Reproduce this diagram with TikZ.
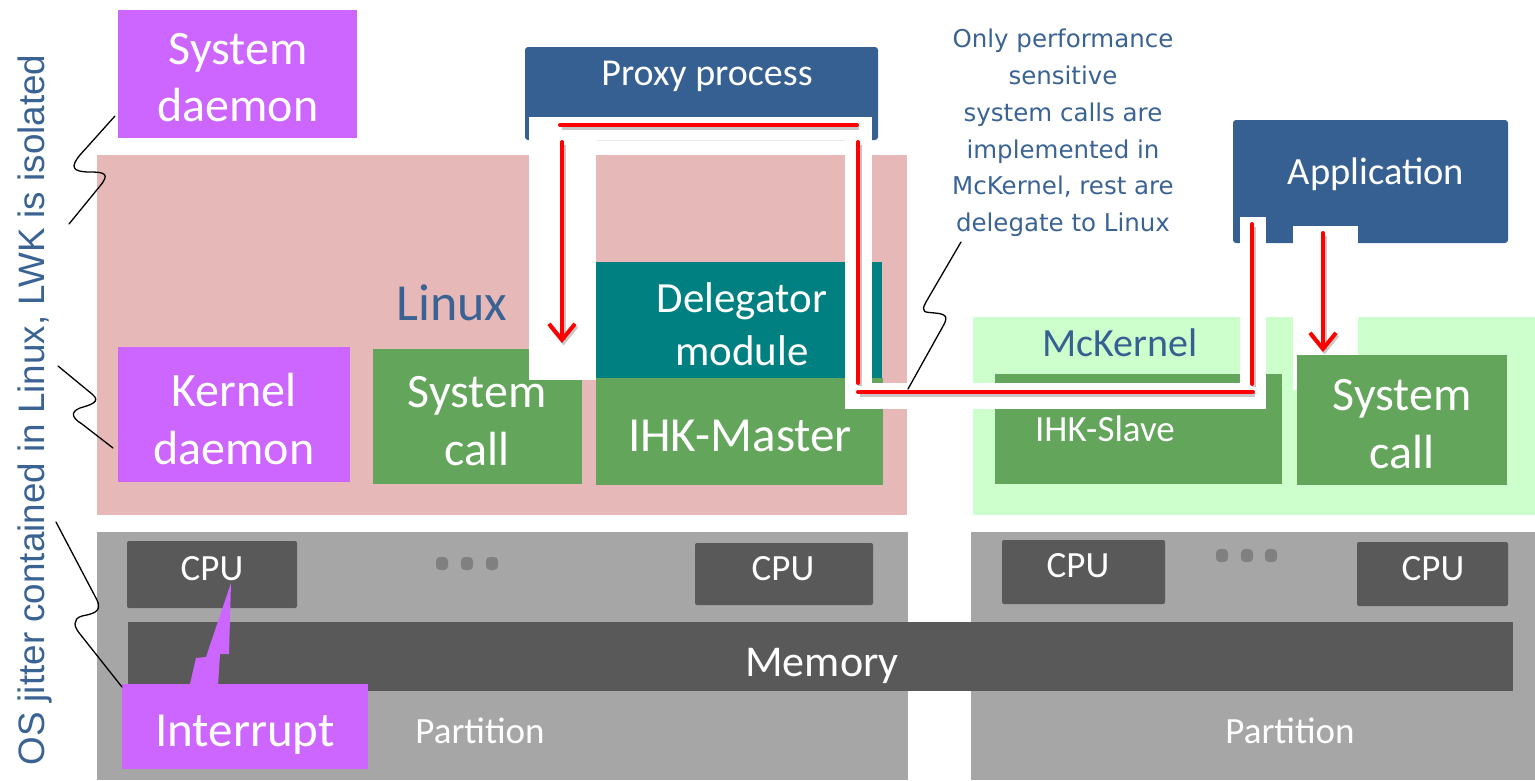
\documentclass[tikz,border=0pt]{standalone}
\usepackage{fontspec}
\setmainfont{Carlito}
\newfontfamily\dejavu{DejaVu Sans}
\newfontfamily\libsans{Liberation Sans}
\usetikzlibrary{arrows.meta}
\definecolor{purp}{HTML}{CC66FF}
\definecolor{pinkbg}{HTML}{E6B8B7}
\definecolor{grn}{HTML}{62A55B}
\definecolor{tealb}{HTML}{008080}
\definecolor{navy}{HTML}{376092}
\definecolor{lgreen}{HTML}{CCFFCC}
\definecolor{grayA}{HTML}{A6A6A6}
\definecolor{grayB}{HTML}{595959}
\definecolor{dotc}{HTML}{808080}
\definecolor{txtblue}{HTML}{3A6394}
\newcommand{\fsz}[2]{\fontsize{#1}{#2}\selectfont}
\begin{document}
\begin{tikzpicture}[x=1pt,y=-1pt,
  blk/.style={inner sep=0pt,outer sep=0pt,anchor=north west,draw=none},
  wtxt/.style={text=white,inner sep=0pt,outer sep=0pt,align=center},
  btxt/.style={text=txtblue,inner sep=0pt,outer sep=0pt,align=center},
  band/.style={fill=white,draw=none},
  redl/.style={draw=red,line width=4pt,line cap=round,
     preaction={draw=black,opacity=0.22,line width=4pt,transform canvas={shift={(1.5pt,-2.5pt)}}}},
  redarr/.style={redl,-{Straight Barb[length=16pt,width=26pt,line width=4pt]}},
  squig/.style={draw=black,line width=1.3pt,line cap=round},
  dotbox/.style={fill=dotc,draw=none,rounded corners=4pt}
]
\useasboundingbox (0,0) rectangle (1535,780);
% backgrounds
\node[blk,fill=pinkbg,minimum width=810pt,minimum height=360pt] (linux) at (97,155) {};
\node[blk,fill=lgreen,minimum width=562pt,minimum height=198pt] (mck) at (973,317) {};
\node[blk,fill=grayA,minimum width=811pt,minimum height=248pt] (part1) at (97,532) {};
\node[blk,fill=grayA,minimum width=564pt,minimum height=248pt] (part2) at (971,532) {};
% boxes
\node[blk,fill=purp,minimum width=239pt,minimum height=128pt] (sysd) at (118,10) {};
\node[blk,fill=purp,minimum width=232pt,minimum height=135pt] (kd) at (118,347) {};
\node[blk,fill=grn,minimum width=209pt,minimum height=135pt] (sc1) at (373,349) {};
\node[blk,fill=tealb,minimum width=286pt,minimum height=116pt] (deleg) at (596,262) {};
\node[blk,fill=grn,minimum width=287pt,minimum height=107pt] (ihkm) at (596,378) {};
\node[blk,fill=grn,minimum width=287pt,minimum height=110pt] (ihks) at (995,374) {};
\node[blk,fill=navy,rounded corners=3pt,minimum width=353pt,minimum height=93pt] (proxy) at (525,47) {};
\node[blk,fill=navy,rounded corners=3pt,minimum width=275pt,minimum height=123pt] (app) at (1233,120) {};
% hardware
\node[blk,fill=grayB,rounded corners=2pt,minimum width=170pt,minimum height=67pt] (cpu1) at (127,541) {};
\node[blk,fill=grayB,rounded corners=2pt,minimum width=178pt,minimum height=62pt] (cpu2) at (695,543) {};
\node[blk,fill=grayB,rounded corners=2pt,minimum width=163pt,minimum height=64pt] (cpu3) at (1002,540) {};
\node[blk,fill=grayB,rounded corners=2pt,minimum width=151pt,minimum height=64pt] (cpu4) at (1357,542) {};
\node[blk,fill=grayB,minimum width=1385pt,minimum height=69pt] (mem) at (128,622) {};
\foreach \i/\x/\y in {1/436/557,2/461/557,3/486/557,4/1216/549,5/1241/549,6/1265/549}{
  \node[blk,dotbox,minimum width=12pt,minimum height=13pt] (dot\i) at (\x,\y) {};
}
% interrupt callout
\fill[purp] (190,684) -- (196,658) -- (206,657) -- (231,583) -- (229,654) -- (220,654) -- (218,686) -- cycle;
\node[blk,fill=purp,minimum width=246pt,minimum height=85pt] (intr) at (122,684) {};
% white bands
\fill[band] (529,117) rectangle (872,140);
\fill[band] (529,117) rectangle (596,380);
\fill[band] (845,117) rectangle (872,409);
\fill[band] (845,383) rectangle (1266,409);
\fill[band] (1240,217) rectangle (1266,409);
\fill[band] (1293,226) rectangle (1358,390);
\node[blk,fill=grn,minimum width=210pt,minimum height=130pt] (sc2) at (1297,355) {};
% red connectors
\coordinate (r1a) at (560,125); \coordinate (r1b) at (857,125);
\coordinate (r2a) at (562,142); \coordinate (r2b) at (562,343);
\coordinate (r3a) at (858,142); \coordinate (r3b) at (858,383);
\coordinate (r4a) at (858,392); \coordinate (r4b) at (1253,392);
\coordinate (r5a) at (1252,384); \coordinate (r5b) at (1252,224);
\coordinate (r6a) at (1323,233); \coordinate (r6b) at (1323,352);
\draw[redl] (r1a) -- (r1b);
\draw[redarr] (r2a) -- (r2b);
\draw[redl] (r3a) -- (r3b);
\draw[redl] (r4a) -- (r4b);
\draw[redl] (r5a) -- (r5b);
\draw[redarr] (r6a) -- (r6b);
% squiggles
\draw[squig] (115,116) -- (80,155) .. controls (70,167) and (72,172) .. (90,172) .. controls (105,172) and (110,174) .. (100,186) -- (69,224);
\draw[squig] (58,366) -- (92,394) .. controls (102,402) and (90,405) .. (80,408) .. controls (70,412) and (72,418) .. (82,424) -- (113,448);
\draw[squig] (56,522) -- (97,600) .. controls (103,612) and (92,614) .. (82,616) .. controls (72,619) and (74,627) .. (80,634) -- (122,687);
\draw[squig] (961,242) -- (926,302) .. controls (920,313) and (925,312) .. (935,313) .. controls (948,314) and (948,318) .. (942,328) -- (908,389);
% texts
\node[wtxt,font=\fsz{48}{57}] (sysdT) at (238,78) {System\\daemon};
\node[wtxt,font=\fsz{48}{58}] (kdT) at (234,419) {Kernel\\daemon};
\node[wtxt,font=\fsz{48}{58}] (sc1T) at (477,421) {System\\call};
\node[wtxt,font=\fsz{43}{53}] (delT) at (742,324) {Delegator\\module};
\node[wtxt,font=\fsz{49}{58},anchor=base] (ihkmT) at (740,451) {IHK-Master};
\node[wtxt,font=\fsz{38}{44},anchor=base] (proxyT) at (707,85) {Proxy process};
\node[wtxt,font=\fsz{38.5}{44},anchor=base] (appT) at (1376,184) {Application};
\node[btxt,font=\fsz{52}{60},anchor=base] (linuxT) at (452,320) {Linux};
\node[btxt,font=\fsz{40}{46},anchor=base,text=navy] (mckT) at (1120,356) {McKernel};
\node[wtxt,font=\fsz{37}{44},anchor=base] (ihksT) at (1105,441) {IHK-Slave};
\node[wtxt,font=\fsz{48}{58}] (sc2T) at (1402,424) {System\\call};
\node[wtxt,font=\fsz{37}{44},anchor=base] (cpuT1) at (212,580) {CPU};
\node[wtxt,font=\fsz{37}{44},anchor=base] (cpuT2) at (783,580) {CPU};
\node[wtxt,font=\fsz{37}{44},anchor=base] (cpuT3) at (1078,577) {CPU};
\node[wtxt,font=\fsz{37}{44},anchor=base] (cpuT4) at (1433,580) {CPU};
\node[wtxt,font=\fsz{44}{50},anchor=base] (memT) at (822,676) {Memory};
\node[wtxt,font=\fsz{37}{44},anchor=base] (partT1) at (480,743) {Partition};
\node[wtxt,font=\fsz{37}{44},anchor=base] (partT2) at (1290,743) {Partition};
\node[wtxt,font=\fsz{49}{58},anchor=base] (intrT) at (245,746) {Interrupt};
\node[btxt,font=\dejavu\fsz{24.5}{36.8},anchor=north] (annT) at (1063,29) {Only performance\\sensitive\\system calls are\\implemented in\\McKernel, rest are\\delegate to Linux};
\node[btxt,font=\libsans\fsz{36.8}{40},rotate=90,anchor=base] (leftT) at (45,410) {OS jitter contained in Linux, LWK is isolated};
\end{tikzpicture}
\end{document}
